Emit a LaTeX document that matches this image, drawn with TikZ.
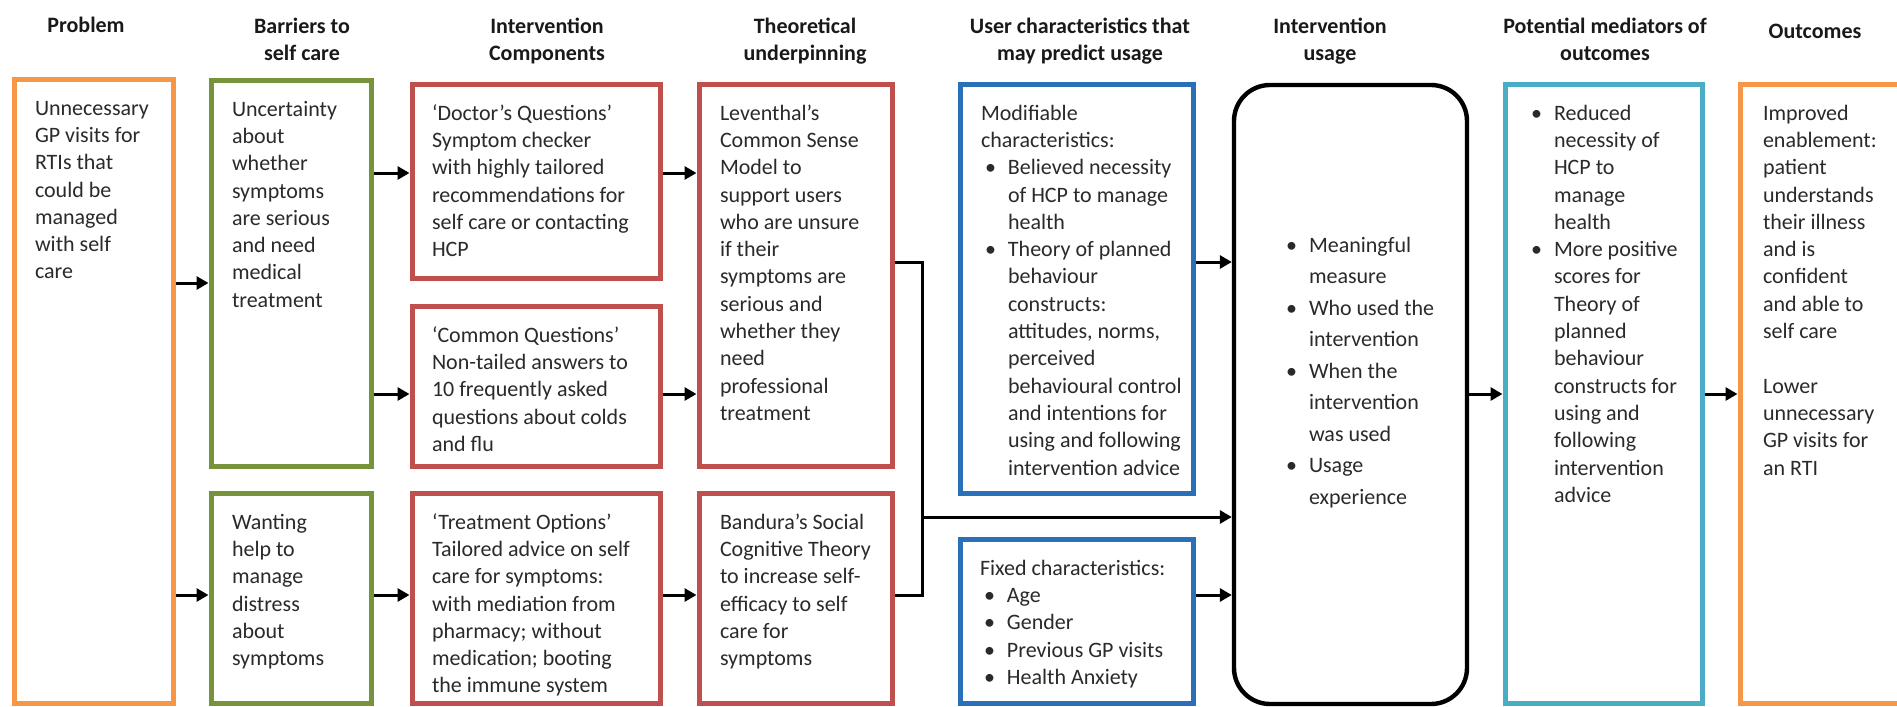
\documentclass[tikz,border=0pt]{standalone}
\usepackage{fontspec}
\setmainfont{Carlito}
\usetikzlibrary{arrows.meta}
\newdimen\pxu \pxu=0.5pt
\definecolor{cOrange}{HTML}{F79646}
\definecolor{cGreen}{HTML}{77933C}
\definecolor{cRed}{HTML}{C0504D}
\definecolor{cBlue}{HTML}{2A70B8}
\definecolor{cTeal}{HTML}{4BACC6}
\definecolor{cText}{HTML}{2A2A2A}
\newcommand{\bulitem}{\makebox[27\pxu][l]{\hspace*{4\pxu}\textbullet}}
\newcommand{\bulcont}{\hspace*{27\pxu}}
\newcommand{\twol}[2]{\parbox[t]{330\pxu}{\centering #1\\#2}}
\newcommand{\tbox}[9]{%
  \node[#2, minimum width={(#5-#3)*0.5pt}, minimum height={(#6-#4)*0.5pt}] (#1) at ({(#3+#5)/2},{(#4+#6)/2}) {\hspace*{#7\pxu}\parbox[c][\dimexpr\pxu*(#6-#4-34)\relax][t]{\dimexpr\pxu*(#5-#3-#7-4)\relax}{\raggedright\vspace*{#8\pxu}\strut #9}\hspace*{4\pxu}};%
}
\begin{document}
\begin{tikzpicture}[x=0.5pt,y=-0.5pt,
  tbx/.style={draw=#1, line width=2.5pt, inner sep=0pt, fill=white, text=cText, font=\fontsize{11}{13.65}\selectfont},
  ubox/.style={draw=black, line width=2.2pt, rounded corners=18pt, inner sep=0pt, fill=white, text=cText, font=\fontsize{11}{15.75}\selectfont},
  hdr/.style={anchor=base, inner sep=0pt, text=black!90, font=\bfseries\fontsize{11}{13.5}\selectfont},
  arr/.style={line width=1.5pt, -{Triangle[length=6pt,width=6.5pt]}},
  conn/.style={line width=1.5pt},
]
\useasboundingbox (0,0) rectangle (1897,707);

% headers
\node[hdr] (hProb) at (86,32) {Problem};
\node[hdr] (hBar) at (302,33) {\twol{Barriers to}{self care}};
\node[hdr] (hInt) at (547,33) {\twol{Intervention}{Components}};
\node[hdr] (hThe) at (805,33) {\twol{Theoretical}{underpinning}};
\node[hdr] (hUse) at (1080,33) {\twol{User characteristics that}{may predict usage}};
\node[hdr] (hUsg) at (1330,33) {\twol{Intervention}{usage}};
\node[hdr] (hMed) at (1605,33) {\twol{Potential mediators of}{outcomes}};
\node[hdr] (hOut) at (1815,38) {Outcomes};

% boxes
\tbox{problem}{tbx=cOrange}{14}{79}{173}{703}{21}{0}{Unnecessary\\GP visits for\\RTIs that\\could be\\managed\\with self\\care}
\tbox{barUnc}{tbx=cGreen}{211}{80}{371}{466}{21}{0}{Uncertainty\\about\\whether\\symptoms\\are serious\\and need\\medical\\treatment}
\tbox{barWant}{tbx=cGreen}{211}{493}{371}{703}{21}{0}{Wanting\\help to\\manage\\distress\\about\\symptoms}
\tbox{icDoc}{tbx=cRed}{412}{84}{660}{278}{20}{0}{‘Doctor’s Questions’\\Symptom checker\\with highly tailored\\recommendations for\\self care or contacting\\HCP}
\tbox{icCom}{tbx=cRed}{412}{306}{660}{466}{20}{0}{‘Common Questions’\\Non-tailed answers to\\10 frequently asked\\questions about colds\\and flu}
\tbox{icTreat}{tbx=cRed}{412}{493}{660}{703}{20}{0}{‘Treatment Options’\\Tailored advice on self\\care for symptoms:\\with mediation from\\pharmacy; without\\medication; booting\\the immune system}
\tbox{thLev}{tbx=cRed}{699}{84}{892}{466}{21}{0}{Leventhal’s\\Common Sense\\Model to\\support users\\who are unsure\\if their\\symptoms are\\serious and\\whether they\\need\\professional\\treatment}
\tbox{thBan}{tbx=cRed}{699}{493}{892}{703}{21}{0}{Bandura’s Social\\Cognitive Theory\\to increase self-\\efficacy to self\\care for\\symptoms}
\tbox{ucMod}{tbx=cBlue}{960}{84}{1193}{493}{21}{0}{Modifiable\\characteristics:\\ \bulitem Believed necessity\\ \bulcont of HCP to manage\\ \bulcont health\\ \bulitem Theory of planned\\ \bulcont behaviour\\ \bulcont constructs:\\ \bulcont attitudes, norms,\\ \bulcont perceived\\ \bulcont behavioural control\\ \bulcont and intentions for\\ \bulcont using and following\\ \bulcont intervention advice}
\tbox{ucFix}{tbx=cBlue}{960}{539}{1193}{703}{20}{0}{Fixed characteristics:\\ \bulitem Age\\ \bulitem Gender\\ \bulitem Previous GP visits\\ \bulitem Health Anxiety}
\tbox{usage}{ubox}{1234}{85}{1467}{704}{48}{128}{\bulitem Meaningful\\ \bulcont measure\\ \bulitem Who used the\\ \bulcont intervention\\ \bulitem When the\\ \bulcont intervention\\ \bulcont was used\\ \bulitem Usage\\ \bulcont experience}
\tbox{med}{tbx=cTeal}{1505}{84}{1702}{703}{22}{0}{\bulitem Reduced\\ \bulcont necessity of\\ \bulcont HCP to\\ \bulcont manage\\ \bulcont health\\ \bulitem More positive\\ \bulcont scores for\\ \bulcont Theory of\\ \bulcont planned\\ \bulcont behaviour\\ \bulcont constructs for\\ \bulcont using and\\ \bulcont following\\ \bulcont intervention\\ \bulcont advice}
\tbox{out}{tbx=cOrange}{1740}{84}{1910}{703}{23}{0}{Improved\\enablement:\\patient\\understands\\their illness\\and is\\confident\\and able to\\self care\\ \strut\\Lower\\unnecessary\\GP visits for\\an RTI}

% row levels
\coordinate (r173) at (0,173);
\coordinate (r262) at (0,262);
\coordinate (r283) at (0,283);
\coordinate (r394) at (0,394);
\coordinate (r517) at (0,517);
\coordinate (r595) at (0,595);
\coordinate (jTop) at (922,262);
\coordinate (jMid) at (922,517);
\coordinate (jBot) at (922,595);

% connectors
\draw[arr] (problem.east |- r283) -- (barUnc.west |- r283);
\draw[arr] (problem.east |- r595) -- (barWant.west |- r595);
\draw[arr] (barUnc.east |- r173) -- (icDoc.west |- r173);
\draw[arr] (barUnc.east |- r394) -- (icCom.west |- r394);
\draw[arr] (barWant.east |- r595) -- (icTreat.west |- r595);
\draw[arr] (icDoc.east |- r173) -- (thLev.west |- r173);
\draw[arr] (icCom.east |- r394) -- (thLev.west |- r394);
\draw[arr] (icTreat.east |- r595) -- (thBan.west |- r595);
\draw[conn] (thLev.east |- jTop) -- (jTop) -- (jBot) -- (thBan.east |- jBot);
\draw[arr] (jMid) -- (usage.west |- jMid);
\draw[arr] (ucMod.east |- r262) -- (usage.west |- r262);
\draw[arr] (ucFix.east |- r595) -- (usage.west |- r595);
\draw[arr] (usage.east |- r394) -- (med.west |- r394);
\draw[arr] (med.east |- r394) -- (out.west |- r394);
\end{tikzpicture}
\end{document}
